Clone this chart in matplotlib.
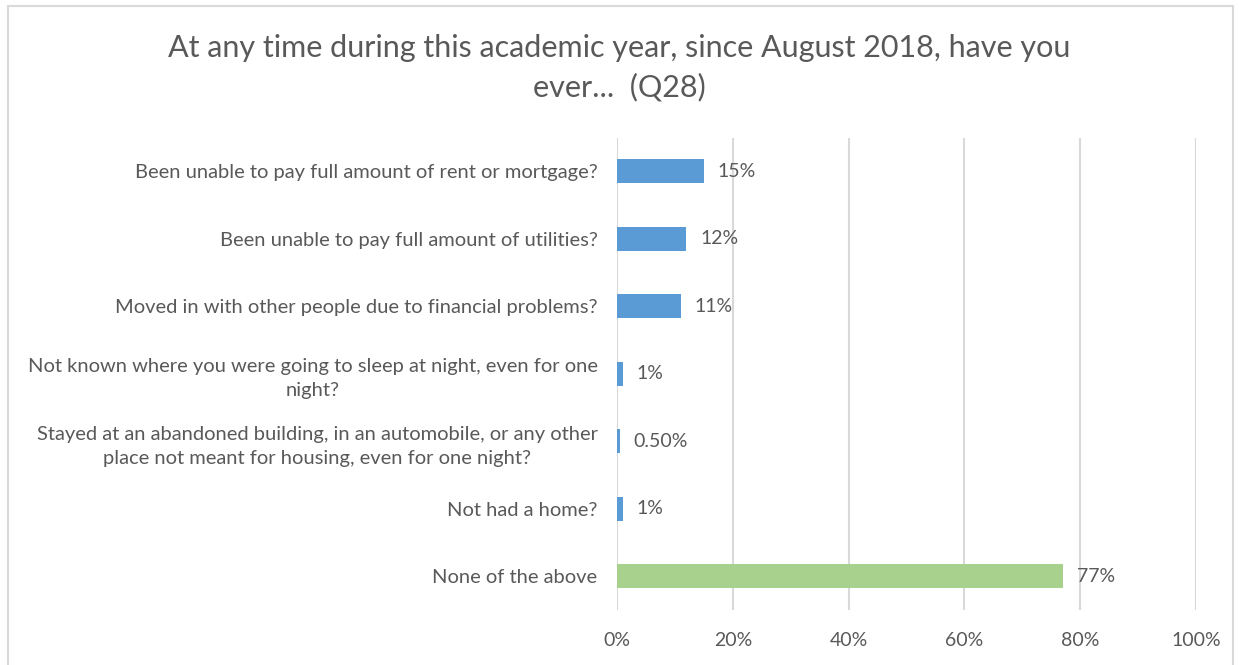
import matplotlib
matplotlib.use("Agg")
import matplotlib.pyplot as plt
from matplotlib.patches import Rectangle

plt.rcParams['font.family'] = ['Lato', 'DejaVu Sans']

# survey answers, top to bottom
questions = [
    "Been unable to pay full amount of rent or mortgage?",
    "Been unable to pay full amount of utilities?",
    "Moved in with other people due to financial problems?",
    "Not known where you were going to sleep at night, even for one\nnight?",
    "Stayed at an abandoned building, in an automobile, or any other\nplace not meant for housing, even for one night?",
    "Not had a home?",
    "None of the above",
]
values = [15, 12, 11, 1, 0.5, 1, 77]
value_labels = ["15%", "12%", "11%", "1%", "0.50%", "1%", "77%"]
ticks = [0, 20, 40, 60, 80, 100]

blue = "#5B9BD5"
green = "#A9D18E"
grey_text = "#595959"

fig = plt.figure(figsize=(12.39, 6.65), dpi=100)
ax = fig.add_axes([617/1239, 1-610/665, (1196-617)/1239, (610-137.5)/665])

colors = [blue]*6 + [green]
y = list(range(len(questions)))
ax.barh(y, values, height=0.36, color=colors, zorder=3)
ax.set_ylim(len(questions)-0.5, -0.5)
ax.set_xlim(0, 100)

for yi, v, lab in zip(y, values, value_labels):
    ax.annotate(lab, (v, yi), xytext=(10, 0), textcoords='offset points',
                ha='left', va='center', fontsize=14, color=grey_text, zorder=4)

ax.set_yticks(y)
ax.set_yticklabels(questions, fontsize=14.5, color=grey_text,
                   multialignment='center', linespacing=1.5)
ax.set_xticks(ticks)
ax.set_xticklabels([f"{t}%" for t in ticks], fontsize=14, color=grey_text)
ax.tick_params(axis='both', length=0)
ax.tick_params(axis='y', pad=14)
ax.tick_params(axis='x', pad=16)
ax.xaxis.grid(True, color="#D9D9D9", linewidth=1.5, zorder=0)
for s in ax.spines.values():
    s.set_visible(False)

fig.text(0.5, 1-68/665, "At any time during this academic year, since August 2018, have you\never...  (Q28)",
         ha='center', va='center', fontsize=22, color=grey_text, linespacing=1.45)

# light outline around the chart area
fig.patches.append(Rectangle((8/1239, -0.05), 1225/1239, 1.05-6/665, transform=fig.transFigure,
                             fill=False, edgecolor="#D9D9D9", linewidth=1.5))

fig.savefig("out.png", dpi=100)
